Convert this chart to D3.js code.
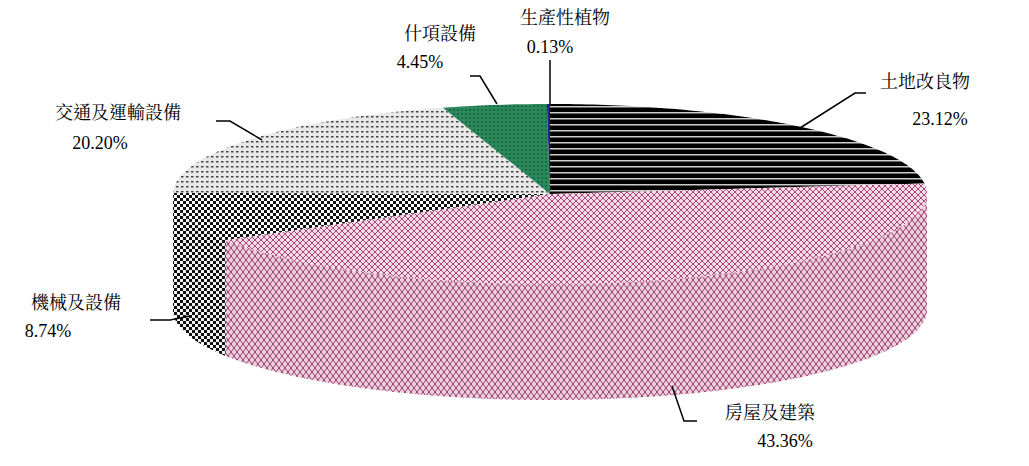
<!DOCTYPE html>
<html><head><meta charset="utf-8">
<script src="https://cdn.jsdelivr.net/npm/d3@7"></script>
<style>body{margin:0;background:#fff}</style>
</head><body>
<svg id="chart" width="1029" height="466"></svg>
<script>
const labels = ["土地改良物","房屋及建築","機械及設備","交通及運輸設備","什項設備","生產性植物"];
const values = [23.12, 43.36, 8.74, 20.20, 4.45, 0.13];
const pctText = ["23.12%","43.36%","8.74%","20.20%","4.45%","0.13%"];

const cx = 550, cy = 194, rx = 377, ry = 90, depth = 116;
const svg = d3.select("#chart");
const defs = svg.append("defs");

// patterns
function pat(id, w, h, bg, draw){
  const p = defs.append("pattern").attr("id", id).attr("patternUnits","userSpaceOnUse")
    .attr("width", w).attr("height", h);
  p.append("rect").attr("width", w).attr("height", h).attr("fill", bg);
  draw(p);
}
pat("stripes", 4, 6, "#000", p => p.append("rect").attr("y",4).attr("width",4).attr("height",1.5).attr("fill","#ccc"));
pat("pink", 6, 6, "#f5dbe8", p => {
  p.append("path").attr("d","M0,3L3,0L6,3L3,6Z").attr("fill","none").attr("stroke","#a8497a").attr("stroke-width",1);
});
pat("pinkside", 6, 8, "#f6dde9", p => {
  p.append("path").attr("d","M0,4L3,0L6,4L3,8Z").attr("fill","none").attr("stroke","#a43a6e").attr("stroke-width",1);
});
pat("checker", 6, 6, "#fff", p => {
  p.append("rect").attr("width",3).attr("height",3).attr("fill","#111");
  p.append("rect").attr("x",3).attr("y",3).attr("width",3).attr("height",3).attr("fill","#111");
});
pat("dots", 5, 5, "#e8e8e8", p => p.append("rect").attr("x",1).attr("y",1).attr("width",2.5).attr("height",1.5).attr("fill","#444"));
pat("green", 4, 4, "#2a8a5c", p => p.append("circle").attr("cx",2).attr("cy",2).attr("r",0.8).attr("fill","#0d3d25"));
const fills = ["url(#stripes)","url(#pink)","url(#checker)","url(#dots)","url(#green)","#1a237e"];
const sideFills = ["url(#stripes)","url(#pinkside)","url(#checker)","url(#dots)","url(#green)","#1a237e"];

const arcs = d3.pie().sort(null).value(d => d)(values);
const pt = (a, dy=0) => [cx + rx*Math.sin(a), cy - ry*Math.cos(a) + dy];

function topPath(s, e){
  const n = Math.max(2, Math.ceil((e-s)*60));
  const pts = d3.range(n+1).map(i => pt(s + (e-s)*i/n));
  return "M" + cx + "," + cy + "L" + pts.map(p => p.join(",")).join("L") + "Z";
}
function sidePath(s, e){
  const n = Math.max(2, Math.ceil((e-s)*60));
  const a = d3.range(n+1).map(i => s + (e-s)*i/n);
  const top = a.map(t => pt(t));
  const bot = a.slice().reverse().map(t => pt(t, depth));
  return "M" + top.concat(bot).map(p => p.join(",")).join("L") + "Z";
}

// sides (front half only)
const sides = svg.append("g");
arcs.forEach((d, i) => {
  const s = Math.max(d.startAngle, Math.PI/2), e = Math.min(d.endAngle, 3*Math.PI/2);
  if (e <= s) return;
  sides.append("path").attr("d", sidePath(s, e)).attr("fill", sideFills[i]);
  sides.append("path").attr("d", sidePath(s, e)).attr("fill", "#000").attr("opacity", 0.05);
});
const tops = svg.append("g");
arcs.forEach((d, i) => {
  tops.append("path").attr("d", topPath(d.startAngle, d.endAngle)).attr("fill", fills[i]);
});

// labels
const labelPos = [
  {lx:925, ly:88, px:940, py:125, line:[[800,128],[855,93],[866,93]]},
  {lx:770, ly:419, px:785, py:447, line:[[672,386],[684,421],[697,421]]},
  {lx:76, ly:309, px:48, py:337, line:[[190,316],[170,320],[150,320]]},
  {lx:118, ly:119, px:100, py:149, line:[[262,140],[230,121],[216,121]]},
  {lx:440, ly:40, px:420, py:68, line:[[497,104],[480,76],[470,76]]},
  {lx:565, ly:24, px:550, py:53, line:[[550,104],[550,60]]}
];
const lg = svg.append("g").attr("font-family","'Liberation Serif','Noto Serif CJK TC','Noto Sans CJK TC',serif")
  .attr("font-size", 18).attr("fill","#000").attr("text-anchor","middle");
labelPos.forEach((p, i) => {
  svg.append("path").attr("d", d3.line()(p.line)).attr("fill","none").attr("stroke","#000").attr("stroke-width",1.5);
  lg.append("text").attr("x", p.lx).attr("y", p.ly).text(labels[i]);
  lg.append("text").attr("x", p.px).attr("y", p.py).text(pctText[i]);
});
</script>
</body></html>
